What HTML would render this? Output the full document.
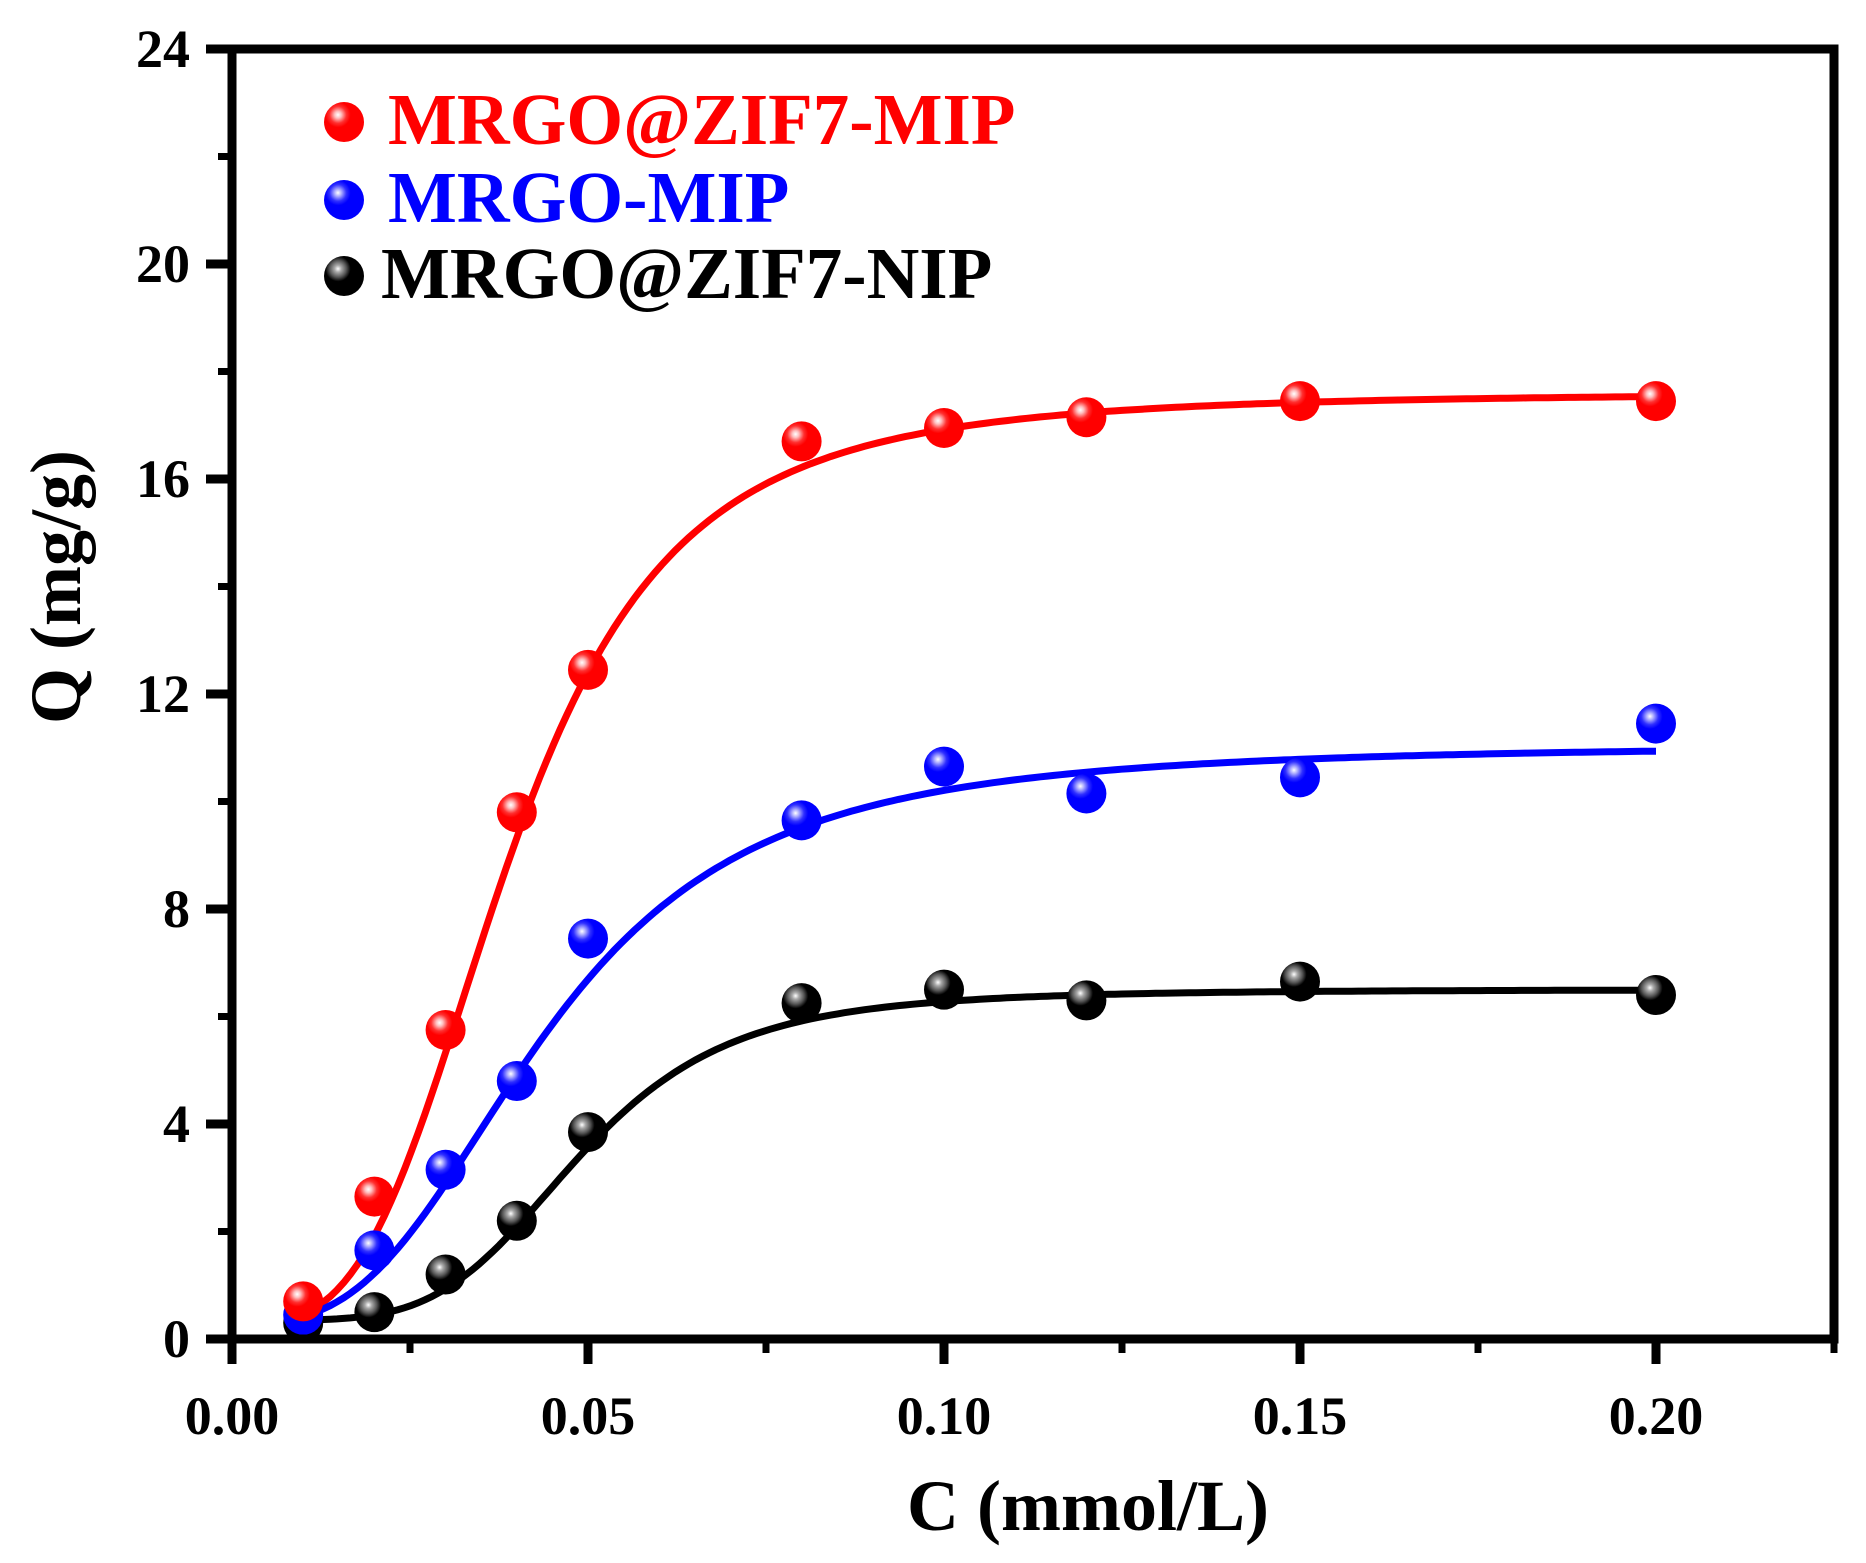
<!DOCTYPE html>
<html><head><meta charset="utf-8"><style>
html,body{margin:0;padding:0;background:#fff}
svg text{font-family:"Liberation Serif",serif;font-weight:bold}
</style></head><body>
<svg id="chart" width="1866" height="1558" viewBox="0 0 1866 1558" xmlns="http://www.w3.org/2000/svg">
<defs>
<radialGradient id="gr" cx="0.35" cy="0.32" r="0.7"><stop offset="0" stop-color="#fff"/><stop offset="0.12" stop-color="#ffc0c0"/><stop offset="0.3" stop-color="#ff3030"/><stop offset="0.45" stop-color="#f00"/><stop offset="1" stop-color="#f00"/></radialGradient>
<radialGradient id="gb" cx="0.35" cy="0.32" r="0.7"><stop offset="0" stop-color="#fff"/><stop offset="0.12" stop-color="#b0b0ff"/><stop offset="0.3" stop-color="#3030ff"/><stop offset="0.45" stop-color="#00f"/><stop offset="1" stop-color="#00f"/></radialGradient>
<radialGradient id="gk" cx="0.35" cy="0.32" r="0.7"><stop offset="0" stop-color="#fff"/><stop offset="0.12" stop-color="#aaa"/><stop offset="0.3" stop-color="#555"/><stop offset="0.45" stop-color="#000"/><stop offset="1" stop-color="#000"/></radialGradient>
</defs>
<g id="plot"></g>
</svg>
<script>
const xCats = [0.01,0.02,0.03,0.04,0.05,0.08,0.10,0.12,0.15,0.20];
const redVals = [0.7,2.65,5.75,9.8,12.45,16.7,16.95,17.15,17.45,17.45];
const blueVals = [0.45,1.65,3.15,4.8,7.45,9.65,10.65,10.15,10.45,11.45];
const blackVals = [0.3,0.5,1.2,2.2,3.85,6.25,6.5,6.3,6.65,6.4];
// Hill fit params: [offset, amplitude, K, n]
const redFit = [0.3,17.3,0.039,3.4];
const blueFit = [0.3,10.75,0.044,3.0];
const blackFit = [0.35,6.15,0.049,4.6];
const xTicks = [0,0.05,0.10,0.15,0.20];
const xTickLabels = ["0.00","0.05","0.10","0.15","0.20"];
const yTicks = [0,4,8,12,16,20,24];
const yTickLabels = ["0","4","8","12","16","20","24"];

const L=232,R=1834,T=49,B=1339;
const X=v=>L+v*(1656-232)/0.2;
const Y=v=>B-v*(B-T)/24;
const NS="http://www.w3.org/2000/svg";
const g=document.getElementById('plot');
function mk(tag,a,parent){const e=document.createElementNS(NS,tag);for(const k in a)e.setAttribute(k,a[k]);(parent||g).appendChild(e);return e;}

function curve(p,color,name){
  let d="";
  for(let i=0;i<=200;i++){const x=0.01+i*(0.19/200);const y=p[0]+p[1]*Math.pow(x,p[3])/(Math.pow(p[2],p[3])+Math.pow(x,p[3]));d+=(i?"L":"M")+X(x).toFixed(1)+","+Y(y).toFixed(1);}
  const e=mk('path',{d:d,fill:'none',stroke:color,'stroke-width':7});
  
  
}
curve(redFit,'#f00','fit-curve-mrgo-zif7-mip');
curve(blueFit,'#00f','fit-curve-mrgo-mip');
curve(blackFit,'#000','fit-curve-mrgo-zif7-nip');

function points(vals,grad,name){
  vals.forEach((v,i)=>{
    const c=mk('circle',{cx:X(xCats[i]),cy:Y(v),r:20,fill:'url(#'+grad+')'});
    
    
  });
}
points(blackVals,'gk','mrgo-zif7-nip');
points(blueVals,'gb','mrgo-mip');
points(redVals,'gr','mrgo-zif7-mip');

const fr=mk('rect',{x:L,y:T,width:R-L,height:B-T,fill:'none',stroke:'#000','stroke-width':9});



xTicks.forEach((t,i)=>{
  const tk=mk('line',{x1:X(t),x2:X(t),y1:B,y2:B+25,stroke:'#000','stroke-width':9});
  
  
  const tx=mk('text',{x:X(t),y:1434,'text-anchor':'middle','font-size':54});
  tx.textContent=xTickLabels[i];
  
  
  const m=t+0.025;const mt=mk('line',{x1:X(m),x2:X(m),y1:B,y2:B+14,stroke:'#000','stroke-width':7});
  
  
});
yTicks.forEach((t,i)=>{
  const tk=mk('line',{x1:L-26,x2:L,y1:Y(t),y2:Y(t),stroke:'#000','stroke-width':9});
  
  
  const tx=mk('text',{x:190,y:Y(t)+18,'text-anchor':'end','font-size':54});
  tx.textContent=yTickLabels[i];
  
  
  if(i<yTicks.length-1){const m=t+2;const mt=mk('line',{x1:L-14,x2:L,y1:Y(m),y2:Y(m),stroke:'#000','stroke-width':7});
  
  }
});

const xt=mk('text',{x:1088,y:1530,'text-anchor':'middle','font-size':72});
xt.textContent='C (mmol/L)';


const yt=mk('text',{x:0,y:0,'text-anchor':'middle','font-size':72,transform:'translate(80,587) rotate(-90)'});
yt.textContent='Q (mg/g)';



const legNames=['MRGO@ZIF7-MIP','MRGO-MIP','MRGO@ZIF7-NIP'];
const legColors=['#f00','#00f','#000'];
const legGrads=['gr','gb','gk'];
const legY=[122,200,276];
legNames.forEach((n,i)=>{
  const c=mk('circle',{cx:344,cy:legY[i],r:20,fill:'url(#'+legGrads[i]+')'});
  
  
  const t=mk('text',{x:i==2?381:388,y:legY[i]+22,'font-size':73,fill:legColors[i]});
  t.textContent=n;
  
  
});
</script>
</body></html>
